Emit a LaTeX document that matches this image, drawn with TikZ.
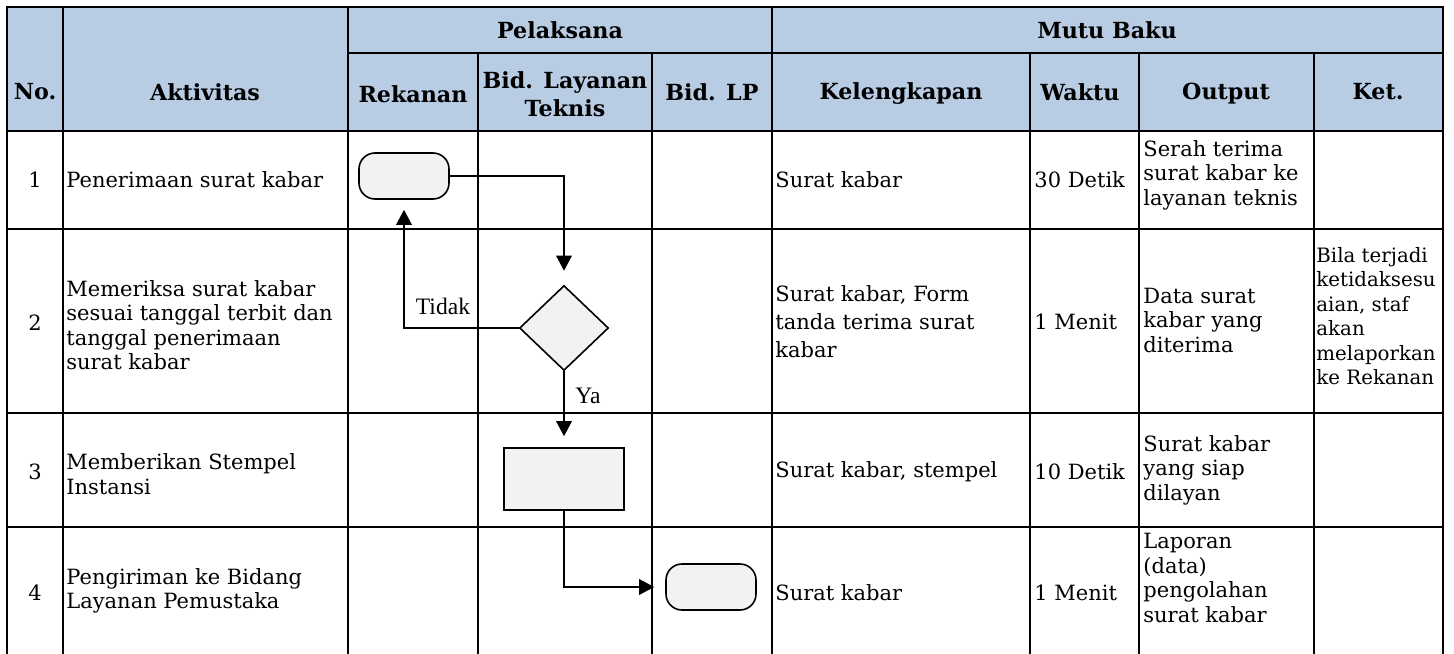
\documentclass[tikz,border=0pt]{standalone}
\usepackage{fontspec}
\setmainfont{DejaVu Serif}
\newfontfamily\tnr{Liberation Serif}
\usetikzlibrary{shapes.geometric}
\usetikzlibrary{arrows.meta}
\definecolor{headblue}{HTML}{B8CCE4}
\definecolor{shapegray}{HTML}{F2F2F2}
\newcommand{\bodyfont}{\fontsize{10.5}{12.25}\selectfont}
\newcommand{\kelfont}{\fontsize{10.5}{14}\selectfont}
\newcommand{\ketfont}{\fontsize{9.9}{12.25}\selectfont}
\newcommand{\headfont}{\fontsize{11.1}{14}\selectfont\bfseries}

\begin{document}
\begin{tikzpicture}[x=0.5pt,y=-0.5pt,
    tabline/.style={line width=1pt, line cap=rect},
    headtxt/.style={font=\headfont, align=center, inner sep=0pt},
    cell/.style={font=\bodyfont, align=left, anchor=west, inner sep=0pt},
    num/.style={font=\bodyfont, inner sep=0pt},
    term/.style={draw, line width=0.8pt, fill=shapegray, rounded corners=8pt, minimum width=45pt, minimum height=23pt},
    proc/.style={draw, line width=0.8pt, fill=shapegray, minimum width=60pt, minimum height=31pt},
    decide/.style={diamond, draw, line width=0.8pt, fill=shapegray, minimum width=44.5pt, minimum height=42.5pt, inner sep=0pt},
    flow/.style={line width=0.65pt, -{Triangle[width=7.8pt,length=7.5pt]}},
    lbl/.style={font=\tnr\fontsize{11.8}{13}\selectfont, inner sep=0pt}]
    \useasboundingbox (0,0) rectangle (1454,653);
    \fill[headblue] (7,7) rectangle (1443,131);
    % Table rules
    \draw[tabline] (7,7) -- (1443,7);
    \draw[tabline] (348,53) -- (1443,53);
    \foreach \y in {131,229,413,527} \draw[tabline] (7,\y) -- (1443,\y);
    \foreach \x in {7,63,348,772,1443} \draw[tabline] (\x,7) -- (\x,653);
    \foreach \x in {478,652,1030,1139,1314} \draw[tabline] (\x,53) -- (\x,653);
    %
    % Header
    \node[headtxt] (pelaksana) at (560,30) {Pelaksana};
    \node[headtxt] (mutubaku) at (1107,30) {Mutu Baku};
    \node[headtxt] (no) at (35,92) {No.};
    \node[headtxt] (aktivitas) at (205,92) {Aktivitas};
    \node[headtxt] (rekanan) at (413,94) {Rekanan};
    \node[headtxt] (bidlt) at (565,94) {Bid. Layanan\\Teknis};
    \node[headtxt] (bidlp) at (712,92) {Bid. LP};
    \node[headtxt] (kelengkapan) at (901,94) {Kelengkapan};
    \node[headtxt] (waktu) at (1080,92) {Waktu};
    \node[headtxt] (output) at (1226,94) {Output};
    \node[headtxt] (ket) at (1378,92) {Ket.};
    %
    % Row 1
    \node[num] (n1) at (35,180) {1};
    \node[cell] (akt1) at (66,180) {Penerimaan surat kabar};
    \node[cell] (kel1) at (775,180) {Surat kabar};
    \node[cell] (wkt1) at (1034,180) {30 Detik};
    \node[cell] (out1) at (1143,175) {Serah terima\\surat kabar ke\\layanan teknis};
    % Row 2
    \node[num] (n2) at (35,323) {2};
    \node[cell] (akt2) at (66,325) {Memeriksa surat kabar\\sesuai tanggal terbit dan\\tanggal penerimaan\\surat kabar};
    \node[cell, font=\kelfont] (kel2) at (775,322) {Surat kabar, Form\\tanda terima surat\\kabar};
    \node[cell] (wkt2) at (1034,322) {1 Menit};
    \node[cell] (out2) at (1143,320) {Data surat\\kabar yang\\diterima};
    \node[cell, font=\ketfont] (ket2) at (1316,316) {Bila terjadi\\ketidaksesu\\aian, staf\\akan\\melaporkan\\ke Rekanan};
    % Row 3
    \node[num] (n3) at (35,472) {3};
    \node[cell] (akt3) at (66,474) {Memberikan Stempel\\Instansi};
    \node[cell] (kel3) at (775,472) {Surat kabar, stempel};
    \node[cell] (wkt3) at (1034,472) {10 Detik};
    \node[cell] (out3) at (1143,470) {Surat kabar\\yang siap\\dilayan};
    % Row 4
    \node[num] (n4) at (35,593) {4};
    \node[cell] (akt4) at (66,591) {Pengiriman ke Bidang\\Layanan Pemustaka};
    \node[cell] (kel4) at (775,593) {Surat kabar};
    \node[cell] (wkt4) at (1034,593) {1 Menit};
    \node[cell] (out4) at (1143,578) {Laporan\\(data)\\pengolahan\\surat kabar};
    %
    % Flow shapes
    \node[term] (mulai) at (404,176) {};
    \node[decide] (cek) at (564,328) {};
    \node[proc] (stempel) at (564,479) {};
    \node[term] (selesai) at (711,587) {};
    % Flow edges
    \draw[flow, shorten >=7pt] (mulai.east) -| (cek.north);
    \draw[flow, shorten >=5pt] (cek.west) -| (mulai.south);
    \draw[flow, shorten >=5.5pt] (cek.south) -- (stempel.north);
    \draw[flow, shorten >=5.5pt] (stempel.south) |- (selesai.west);
    \node[lbl] (tidak) at (443,306) {Tidak};
    \node[lbl] (ya) at (588,396) {Ya};
\end{tikzpicture}
\end{document}
